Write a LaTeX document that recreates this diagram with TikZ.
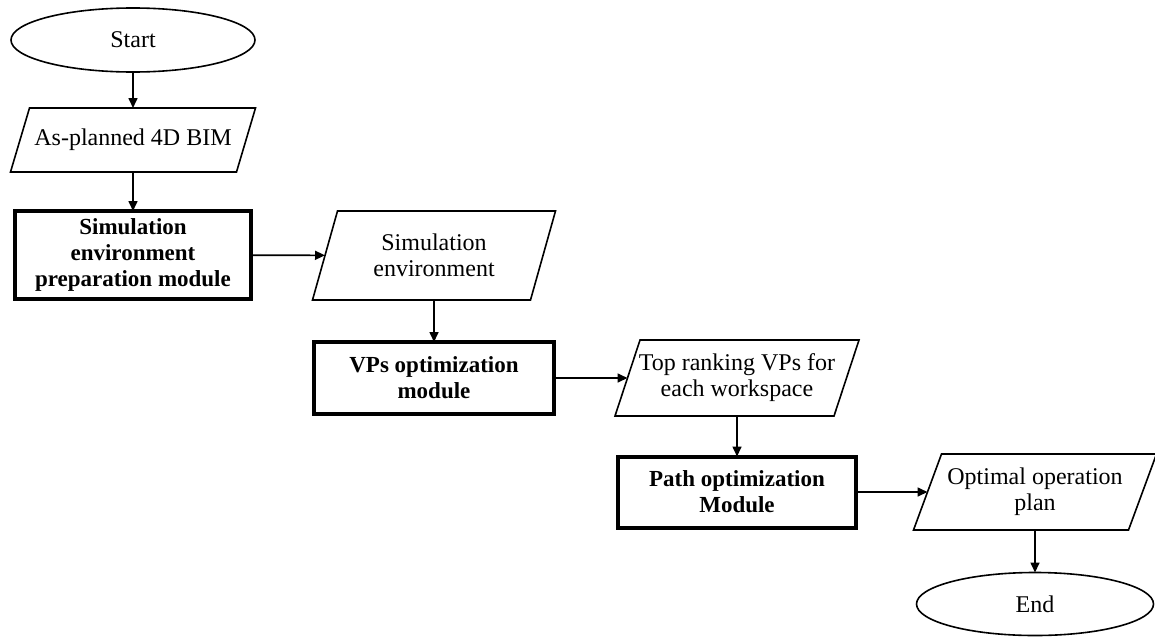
\documentclass[tikz,border=0pt]{standalone}
\usepackage{fontspec}
\setmainfont{Liberation Serif}
\usetikzlibrary{shapes.geometric,arrows.meta}
% parallelogram outline round a data node: #1 node name, #2 half of the slant
\newcommand\ioframe[2]{%
  \draw[thinline, line join=miter]
    ([xshift=#2]#1.north west) -- ([xshift=#2]#1.north east) --
    ([xshift=-#2]#1.south east) -- ([xshift=-#2]#1.south west) -- cycle;}
\begin{document}
\begin{tikzpicture}[x=1pt,y=-1pt,
  every node/.style={font=\fontsize{24}{26}\selectfont, align=center, inner sep=2pt, outer sep=0pt},
  thinline/.style={line width=1.6pt},
  terminal/.style={ellipse, draw, thinline},
  iobox/.style={rectangle},
  modbox/.style={rectangle, draw, line width=4pt, font=\fontsize{23}{26}\selectfont\bfseries},
  flow/.style={-{Triangle[length=10pt,width=9pt]}, thinline}]
\useasboundingbox (0,0) rectangle (1155,637);

% start and inputs
\node[terminal, minimum width=244, minimum height=64] (start) at (133,40) {Start};
\node[iobox, minimum width=226, minimum height=64] (bim) at (133,140) {As-planned 4D BIM};

% modules and their outputs
\node[modbox, minimum width=236, minimum height=88] (simmod) at (133,255)
  {Simulation\\environment\\preparation module};
\node[iobox, minimum width=218, minimum height=89] (simenv) at (434,255.5)
  {Simulation\\environment};

\node[modbox, minimum width=240, minimum height=72] (vpmod) at (434,378)
  {VPs optimization\\module};
\node[iobox, minimum width=219, minimum height=76] (topvp) at (737,378)
  {Top ranking VPs for\\each workspace};

\node[modbox, minimum width=238, minimum height=71] (pathmod) at (737,492)
  {Path optimization\\Module};
\node[iobox, minimum width=215, minimum height=76] (plan) at (1035,492)
  {Optimal operation\\plan};

\node[terminal, minimum width=237, minimum height=63] (end) at (1035,604) {End};

% parallelogram outlines of the data nodes
\ioframe{bim}{9.5pt}
\ioframe{simenv}{12.5pt}
\ioframe{topvp}{12.5pt}
\ioframe{plan}{14pt}

% connectors
\draw[flow] (start) -- (bim);
\draw[flow] (bim) -- (simmod);
\draw[flow] (simmod) -- (simenv);
\draw[flow] (simenv) -- (vpmod);
\draw[flow] (vpmod) -- (topvp);
\draw[flow] (topvp) -- (pathmod);
\draw[flow] (pathmod) -- (plan);
\draw[flow] (plan) -- (end);
\end{tikzpicture}
\end{document}
